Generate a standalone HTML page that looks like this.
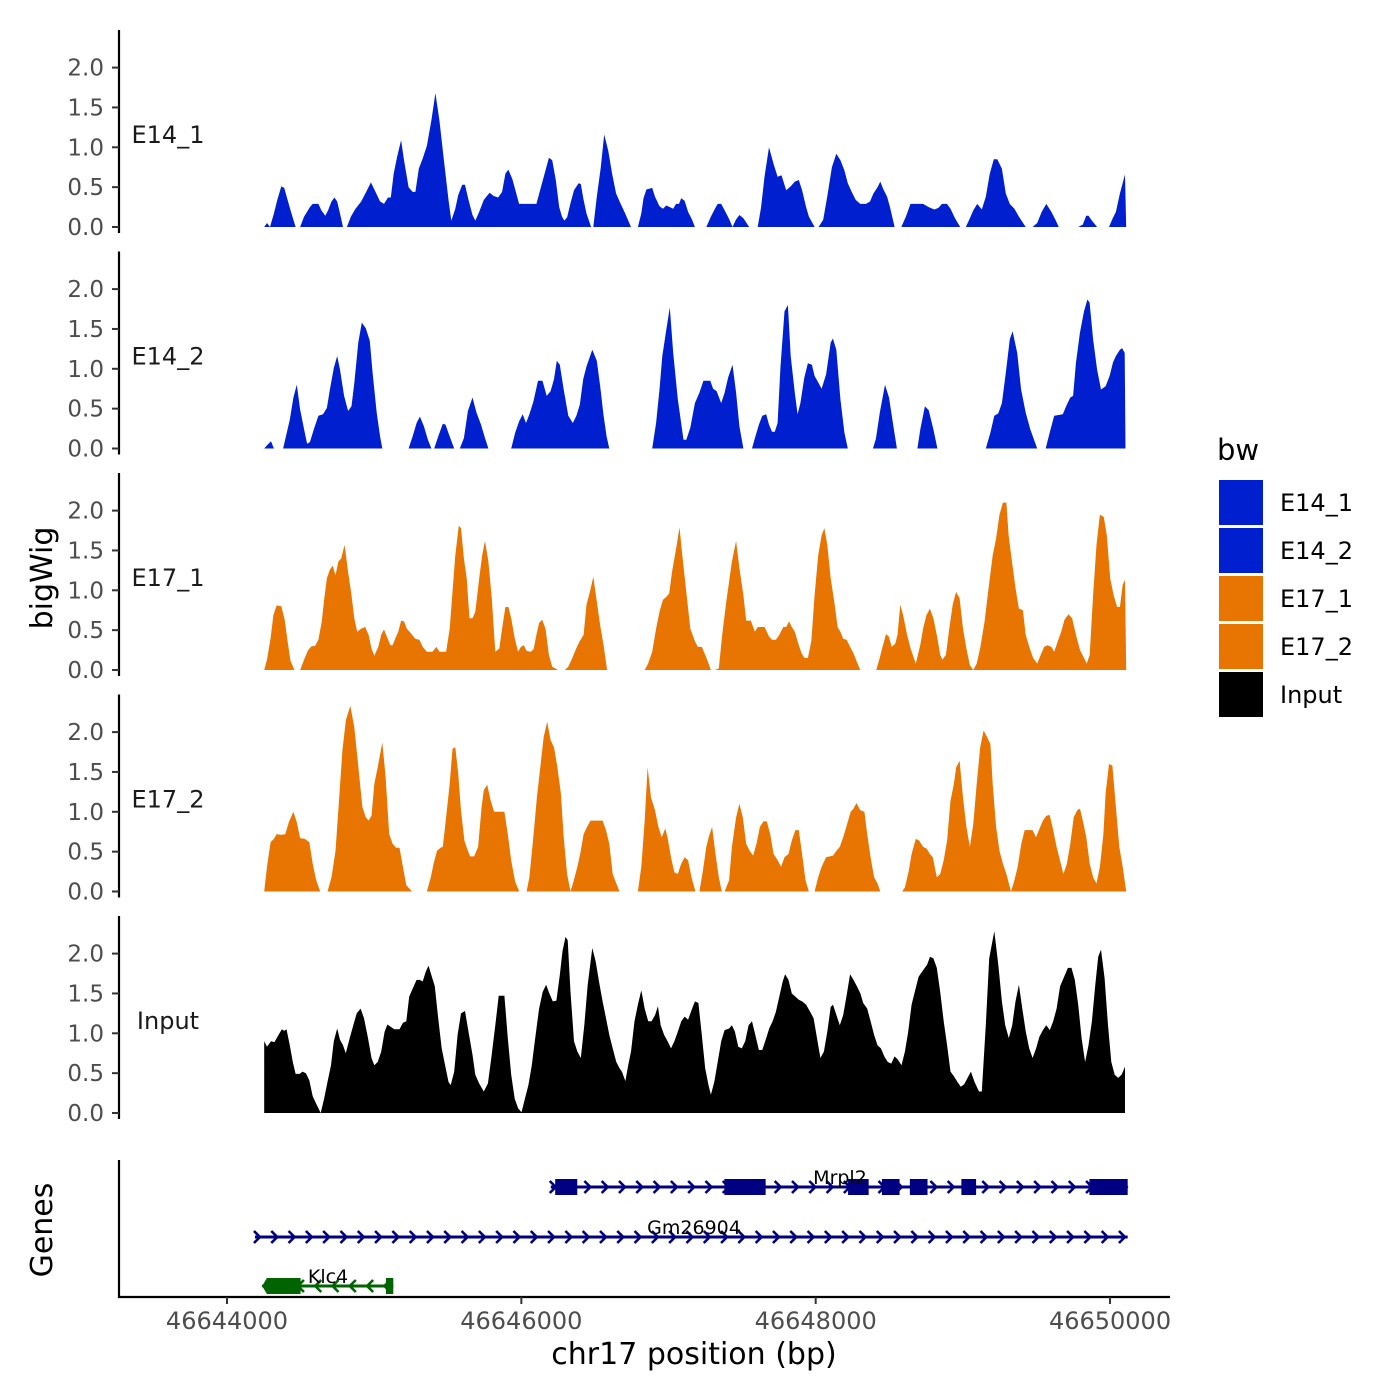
<!DOCTYPE html>
<html><head><meta charset="utf-8"><style>
html,body{margin:0;padding:0;background:#fff;}
svg{display:block;font-family:"DejaVu Sans","Liberation Sans",sans-serif;}
</style></head><body>
<svg id="chart" width="1400" height="1400" viewBox="0 0 1400 1400" xmlns="http://www.w3.org/2000/svg">
<rect width="1400" height="1400" fill="#fff"/>
<g id="tracks"></g>
<g id="genes"></g>
<text x="52" y="578" font-size="30" text-anchor="middle" transform="rotate(-90 52 578)" fill="#000">bigWig</text>
<text x="52" y="1230" font-size="30" text-anchor="middle" transform="rotate(-90 52 1230)" fill="#000">Genes</text>
<text x="694" y="1364" font-size="30" text-anchor="middle" fill="#000">chr17 position (bp)</text>
<g id="xaxis"></g>
<g>
<text x="1217" y="460" font-size="29" fill="#000">bw</text>
<rect x="1219" y="480" width="44" height="45" fill="#0020d0"/>
<text x="1280" y="511" font-size="24" fill="#000">E14_1</text>
<rect x="1219" y="528" width="44" height="45" fill="#0020d0"/>
<text x="1280" y="559" font-size="24" fill="#000">E14_2</text>
<rect x="1219" y="576" width="44" height="45" fill="#e87502"/>
<text x="1280" y="607" font-size="24" fill="#000">E17_1</text>
<rect x="1219" y="624" width="44" height="45" fill="#e87502"/>
<text x="1280" y="655" font-size="24" fill="#000">E17_2</text>
<rect x="1219" y="672" width="44" height="45" fill="#000"/>
<text x="1280" y="703" font-size="24" fill="#000">Input</text>
</g>
</svg>
<script>
// positions in kb offset from 46644000; null separates gaps
const e14_1_pos=[0.253,0.272,0.292,0.319,0.342,0.369,0.389,0.412,0.435,0.466,null,0.497,0.524,0.563,0.582,0.621,0.641,0.668,0.687,0.710,0.730,0.749,0.768,0.788,null,0.815,0.842,0.873,0.912,0.951,0.978,1.009,1.040,1.067,1.094,1.113,1.133,1.156,1.183,1.203,1.234,1.261,1.280,1.303,1.330,1.358,1.389,1.416,1.443,1.474,1.505,1.524,1.551,1.571,1.598,1.617,1.641,1.668,1.687,1.714,1.745,1.784,1.811,1.842,1.869,1.892,1.912,1.939,1.966,1.985,2.102,2.133,2.164,2.187,2.210,2.234,2.257,2.276,2.292,2.311,2.334,2.358,2.389,2.404,2.423,2.443,2.474,null,2.489,2.513,2.540,2.563,2.590,2.617,2.644,2.675,2.706,2.745,null,2.792,2.815,2.830,2.850,2.889,2.908,2.939,2.962,2.985,3.009,3.032,3.051,3.071,3.086,3.109,3.133,3.160,3.179,null,3.257,3.288,3.315,3.334,3.358,3.381,3.412,3.435,3.458,3.482,3.509,3.548,null,3.606,3.629,3.652,3.683,3.714,3.741,3.768,3.800,3.830,3.858,3.885,3.908,3.935,3.954,3.993,null,4.020,4.051,4.078,4.110,4.140,4.168,4.195,4.218,4.245,4.272,4.303,4.342,4.369,4.392,4.420,4.439,4.458,4.485,4.505,4.536,null,4.582,4.613,4.644,4.730,4.768,4.807,4.834,4.858,4.892,4.916,4.947,4.982,null,5.020,5.048,5.071,5.098,5.129,5.156,5.183,5.210,5.234,5.265,5.292,5.319,5.350,5.381,5.427,null,5.474,5.505,5.536,5.567,5.602,5.629,5.652,null,5.784,5.815,5.838,5.854,5.877,5.912,null,5.993,6.016,6.040,6.067,6.102,6.110];
const e14_1_val=[0,0.05,0,0.17,0.34,0.51,0.49,0.34,0.19,0,null,0,0.13,0.25,0.29,0.29,0.21,0.14,0.21,0.32,0.37,0.32,0.17,0,null,0,0.13,0.23,0.32,0.46,0.56,0.44,0.32,0.29,0.37,0.37,0.67,0.88,1.09,0.84,0.5,0.44,0.44,0.73,0.86,1.02,1.34,1.68,1.34,0.84,0.34,0.08,0.23,0.4,0.53,0.53,0.34,0.15,0.08,0.19,0.34,0.43,0.39,0.37,0.44,0.67,0.72,0.6,0.42,0.29,0.29,0.5,0.71,0.87,0.84,0.59,0.25,0.13,0.08,0.12,0.3,0.46,0.55,0.54,0.34,0.17,0,null,0,0.38,0.75,1.16,0.96,0.67,0.42,0.29,0.17,0,null,0,0.17,0.36,0.47,0.49,0.38,0.26,0.23,0.27,0.25,0.23,0.29,0.29,0.36,0.33,0.19,0.09,0,null,0,0.13,0.23,0.29,0.29,0.21,0.1,0,0.09,0.15,0.11,0,null,0,0.25,0.63,1.0,0.79,0.63,0.65,0.46,0.51,0.57,0.59,0.46,0.25,0.13,0,null,0,0.09,0.38,0.75,0.92,0.84,0.71,0.55,0.44,0.34,0.29,0.29,0.32,0.42,0.5,0.57,0.48,0.38,0.25,0,null,0,0.13,0.29,0.29,0.25,0.22,0.24,0.29,0.29,0.23,0.11,0,null,0,0.11,0.21,0.29,0.22,0.38,0.67,0.85,0.85,0.73,0.42,0.29,0.23,0.13,0,null,0,0.05,0.19,0.29,0.19,0.09,0,null,0,0.03,0.14,0.14,0.08,0,null,0,0.1,0.19,0.42,0.66,0];
const e14_2_pos=[0.253,0.272,0.299,0.319,null,0.381,0.400,0.427,0.451,0.474,0.497,0.524,0.544,0.563,0.590,0.621,0.652,0.679,0.699,0.726,0.749,0.768,0.796,0.823,0.846,0.865,0.892,0.916,0.943,0.970,0.989,1.017,1.040,1.055,null,1.234,1.261,1.288,1.311,1.338,1.365,1.389,null,1.408,1.435,1.466,1.485,1.513,1.544,null,1.582,1.610,1.637,1.668,1.695,1.726,1.753,1.776,null,1.931,1.958,1.985,2.009,2.032,2.055,2.082,2.113,2.144,2.172,2.199,2.222,2.241,2.261,2.288,2.319,2.350,2.374,2.397,2.420,2.443,2.482,2.513,2.536,2.559,2.579,2.598,null,2.889,2.916,2.939,2.958,2.985,3.009,3.032,3.063,3.102,3.121,3.148,3.179,3.210,3.237,3.284,3.303,3.327,3.358,3.381,3.405,3.435,3.459,3.482,3.509,null,3.567,3.587,3.614,3.637,3.664,3.683,3.703,3.722,3.741,3.761,3.788,3.811,3.830,3.858,3.877,3.896,3.923,3.947,3.974,3.993,4.020,4.040,4.071,4.102,4.117,4.140,4.168,4.195,4.218,null,4.389,4.409,4.436,4.471,4.498,4.525,4.552,null,4.691,4.711,4.742,4.768,4.800,4.827,null,5.156,5.187,5.214,5.241,5.265,5.292,5.319,5.338,5.369,5.396,5.427,5.458,5.505,null,5.563,5.590,5.621,5.679,5.706,5.730,5.749,5.768,5.795,5.823,5.846,5.861,5.885,5.912,5.939,5.970,5.997,6.020,6.040,6.067,6.082,6.100,6.105];
const e14_2_val=[0,0.04,0.09,0,null,0,0.15,0.36,0.64,0.8,0.49,0.24,0.06,0.08,0.24,0.41,0.43,0.51,0.74,1.01,1.16,0.99,0.66,0.47,0.53,0.82,1.33,1.58,1.51,1.35,0.95,0.45,0.15,0,null,0,0.15,0.32,0.4,0.28,0.11,0,null,0,0.15,0.31,0.3,0.15,0,null,0,0.13,0.47,0.64,0.45,0.3,0.13,0,null,0,0.2,0.34,0.43,0.32,0.43,0.59,0.85,0.85,0.66,0.72,0.87,1.1,1.05,0.74,0.41,0.32,0.41,0.55,0.87,1.03,1.24,1.1,0.78,0.41,0.15,0,null,0,0.32,0.74,1.16,1.49,1.77,1.2,0.62,0.11,0.11,0.26,0.57,0.7,0.85,0.85,0.75,0.72,0.57,0.7,0.89,1.05,0.7,0.28,0,null,0,0.13,0.3,0.41,0.43,0.3,0.21,0.21,0.32,1.03,1.72,1.8,1.16,0.7,0.43,0.57,0.89,1.07,1.05,0.91,0.82,0.75,0.93,1.33,1.38,1.24,0.62,0.2,0,null,0,0.12,0.45,0.8,0.64,0.32,0,null,0,0.24,0.53,0.48,0.24,0,null,0,0.2,0.41,0.44,0.57,0.95,1.37,1.47,1.2,0.74,0.45,0.24,0,null,0,0.2,0.41,0.43,0.55,0.64,0.66,1.07,1.45,1.72,1.87,1.83,1.37,0.99,0.74,0.78,0.91,1.08,1.16,1.24,1.26,1.2,0];
const e17_1_pos=[0.253,0.272,0.296,0.315,0.338,0.369,0.392,0.412,0.431,0.458,null,0.497,0.524,0.551,0.575,0.598,0.621,0.644,0.660,0.679,0.699,0.718,0.737,0.757,0.776,0.799,0.823,0.846,0.865,0.885,0.912,0.939,0.962,0.982,1.001,1.028,1.048,1.067,1.086,1.110,1.125,1.144,1.164,1.183,1.203,1.222,1.249,1.280,1.307,1.330,1.358,1.396,1.423,1.443,1.489,1.513,1.532,1.551,1.575,1.590,1.610,1.629,1.648,1.668,1.687,1.714,1.734,1.753,1.776,1.799,1.823,1.850,1.869,1.892,1.912,1.931,1.955,1.978,1.997,2.017,2.036,2.063,2.083,2.102,2.121,2.141,2.164,2.187,2.210,2.230,2.249,null,2.296,2.319,2.346,2.373,2.396,2.423,2.443,2.466,2.489,2.513,2.536,2.559,2.583,null,2.838,2.861,2.889,2.916,2.939,2.962,2.986,3.005,3.024,3.052,3.075,3.094,3.121,3.148,3.179,3.199,3.226,3.249,3.268,3.288,null,3.315,3.342,3.365,3.393,3.431,3.459,3.482,3.509,3.528,3.559,3.587,3.606,3.653,3.683,3.703,3.730,3.753,3.780,3.800,3.819,3.838,3.858,3.885,3.904,3.924,3.947,3.970,3.993,4.017,4.040,4.059,4.079,4.102,4.129,4.149,4.168,4.187,4.210,4.234,4.257,4.280,4.303,null,4.412,4.435,4.451,4.478,4.497,4.517,4.540,4.556,4.575,4.594,4.621,4.645,4.680,4.710,4.730,4.753,4.776,4.800,4.827,4.846,4.861,4.885,4.908,4.931,4.954,4.978,5.001,5.024,5.048,5.071,5.094,5.117,5.148,5.175,5.203,5.226,5.249,5.272,5.296,5.311,5.334,5.358,5.381,5.408,5.427,5.455,5.478,5.505,5.529,5.552,5.575,5.602,5.621,5.645,5.668,5.691,5.718,5.742,5.769,5.796,5.823,5.842,5.862,5.885,5.908,5.931,5.958,5.978,6.001,6.024,6.048,6.067,6.086,6.102,6.110];
const e17_1_val=[0,0.13,0.4,0.69,0.81,0.8,0.63,0.36,0.12,0,null,0,0.13,0.25,0.3,0.3,0.38,0.61,0.88,1.15,1.26,1.31,1.19,1.36,1.4,1.57,1.23,0.94,0.65,0.48,0.52,0.54,0.44,0.27,0.18,0.29,0.44,0.51,0.42,0.31,0.31,0.4,0.48,0.62,0.61,0.52,0.46,0.39,0.38,0.29,0.23,0.23,0.29,0.23,0.23,0.52,0.98,1.44,1.81,1.78,1.4,1.15,0.65,0.65,0.73,1.15,1.44,1.62,1.36,0.9,0.23,0.27,0.52,0.79,0.79,0.65,0.4,0.23,0.29,0.31,0.24,0.23,0.26,0.44,0.59,0.63,0.52,0.19,0.04,0.02,0,null,0,0.04,0.15,0.27,0.36,0.44,0.82,0.98,1.17,0.86,0.56,0.31,0,null,0,0.08,0.23,0.52,0.73,0.88,0.92,0.96,1.23,1.53,1.79,1.44,0.98,0.52,0.36,0.29,0.29,0.19,0.1,0,null,0,0.02,0.44,0.86,1.36,1.62,1.28,0.94,0.62,0.62,0.48,0.54,0.54,0.42,0.38,0.38,0.44,0.54,0.54,0.61,0.54,0.48,0.31,0.21,0.15,0.15,0.36,0.94,1.44,1.69,1.78,1.57,1.15,0.82,0.54,0.48,0.39,0.38,0.29,0.21,0.1,0,null,0,0.15,0.27,0.45,0.42,0.29,0.33,0.44,0.82,0.69,0.44,0.27,0.08,0.31,0.52,0.69,0.77,0.65,0.4,0.19,0.13,0.19,0.52,0.82,0.98,0.9,0.52,0.27,0.06,0,0.08,0.27,0.61,1.03,1.44,1.65,1.95,2.1,2.1,1.69,1.36,1.03,0.77,0.75,0.44,0.27,0.15,0.08,0.19,0.29,0.31,0.29,0.23,0.36,0.48,0.63,0.7,0.65,0.44,0.25,0.15,0.08,0.19,0.94,1.57,1.95,1.92,1.69,1.15,0.94,0.79,0.79,1.07,1.13,0];
const e17_2_pos=[0.253,0.272,0.296,0.319,0.338,0.369,0.396,0.420,0.451,0.474,0.497,0.528,0.559,0.582,0.606,0.633,null,0.683,0.710,0.737,0.761,0.784,0.808,0.838,0.865,0.893,0.920,0.943,0.962,0.982,1.001,1.024,1.055,1.078,1.102,1.125,1.148,1.172,1.195,1.218,1.257,null,1.358,1.385,1.404,1.427,1.451,1.466,1.489,1.513,1.532,1.551,1.571,1.590,1.613,1.637,1.652,1.679,1.706,1.730,1.745,1.768,1.792,1.815,1.885,1.908,1.931,1.958,1.986,null,2.036,2.055,2.083,2.106,2.129,2.152,2.176,2.199,2.222,2.245,2.269,2.288,2.311,2.334,2.354,2.381,2.404,2.423,2.447,2.470,2.552,2.575,2.598,2.621,2.645,2.668,null,2.792,2.815,2.838,2.858,2.881,2.908,2.931,2.954,2.978,2.993,3.017,3.040,3.063,3.086,3.110,3.133,3.156,3.183,null,3.210,3.234,3.257,3.276,3.296,3.319,3.342,3.362,null,3.381,3.412,3.431,3.459,3.482,3.505,3.528,3.552,3.575,3.598,3.621,3.645,3.668,3.691,3.714,3.742,3.765,3.788,3.815,3.838,3.862,3.885,3.908,3.931,3.954,null,3.993,4.017,4.040,4.071,4.118,4.141,4.164,4.187,4.214,4.238,4.257,4.277,4.303,4.331,4.350,4.373,4.397,4.420,4.439,null,4.587,4.606,4.633,4.652,4.680,4.703,4.730,4.753,4.776,4.796,4.823,4.846,4.870,4.893,4.916,4.939,4.955,4.978,5.001,5.024,5.048,5.071,5.094,5.118,5.141,5.164,5.187,5.203,5.226,5.249,5.272,5.296,5.327,5.350,5.373,5.397,5.420,5.447,5.474,5.497,5.517,5.544,5.567,5.590,5.614,5.637,5.660,5.683,5.707,5.730,5.753,5.777,5.796,5.815,5.839,5.862,5.885,5.908,5.931,5.955,5.970,5.993,6.016,6.040,6.063,6.086,6.110];
const e17_2_val=[0,0.31,0.62,0.66,0.72,0.71,0.72,0.87,1.0,0.87,0.67,0.66,0.62,0.35,0.14,0,null,0,0.18,0.51,1.14,1.77,2.15,2.33,2.06,1.56,1.06,0.93,0.89,0.95,1.35,1.56,1.87,1.44,0.72,0.6,0.55,0.55,0.31,0.08,0,null,0,0.18,0.35,0.51,0.55,0.56,0.93,1.35,1.79,1.81,1.48,1.02,0.64,0.51,0.44,0.44,0.56,1.06,1.27,1.34,1.14,1.0,1.0,0.72,0.39,0.12,0,null,0,0.18,0.72,1.18,1.56,1.94,2.13,1.9,1.81,1.56,1.23,0.68,0.22,0,0.12,0.31,0.51,0.72,0.81,0.89,0.89,0.77,0.6,0.22,0.1,0,null,0,0.31,0.89,1.56,1.18,1.02,0.81,0.68,0.79,0.68,0.43,0.24,0.22,0.35,0.43,0.39,0.18,0,null,0,0.26,0.56,0.7,0.81,0.47,0.18,0,null,0,0.14,0.56,0.93,1.1,0.93,0.6,0.51,0.45,0.6,0.81,0.88,0.88,0.72,0.47,0.39,0.31,0.43,0.47,0.64,0.77,0.77,0.47,0.14,0,null,0,0.18,0.31,0.43,0.45,0.51,0.56,0.68,0.85,1.0,1.04,1.11,1.02,1.0,0.72,0.43,0.18,0.1,0,null,0,0.05,0.26,0.47,0.66,0.64,0.56,0.54,0.47,0.43,0.18,0.22,0.39,0.64,1.14,1.35,1.56,1.64,1.18,0.81,0.56,0.85,1.35,1.81,2.02,1.94,1.85,1.35,0.81,0.51,0.35,0.22,0,0.14,0.31,0.6,0.77,0.77,0.77,0.68,0.77,0.89,0.95,0.96,0.77,0.56,0.39,0.22,0.35,0.6,0.93,1.02,1.04,0.89,0.68,0.35,0.18,0.1,0.31,0.72,1.23,1.6,1.58,1.06,0.56,0.31,0];
const input_pos=[0.253,0.272,0.299,0.323,0.350,0.373,0.389,0.404,0.427,0.447,0.466,0.493,0.513,0.536,0.559,0.582,0.610,0.637,0.660,0.683,0.707,0.726,0.749,0.768,0.788,0.807,0.834,0.858,0.881,0.908,0.931,0.958,0.982,1.001,1.024,1.048,1.071,1.090,1.113,1.137,1.172,1.195,1.218,1.238,1.261,1.288,1.311,1.330,1.350,1.369,1.389,1.412,1.435,1.459,1.482,1.505,1.520,1.544,1.567,1.590,1.617,1.641,1.668,1.687,1.714,1.745,1.773,1.796,1.823,1.846,1.885,1.908,1.931,1.955,1.978,2.001,2.024,2.048,2.071,2.094,2.121,2.145,2.168,2.191,2.214,2.238,2.261,2.280,2.300,2.315,2.334,2.358,2.381,2.404,2.428,2.451,2.482,2.505,2.528,2.552,2.575,2.598,2.621,2.645,2.668,2.683,2.707,2.726,2.745,2.769,2.792,2.815,2.838,2.862,2.885,2.909,2.928,2.947,2.970,2.994,3.017,3.040,3.063,3.087,3.110,3.133,3.156,3.179,3.203,3.226,3.249,3.272,3.288,3.311,3.334,3.358,3.381,3.412,3.431,3.451,3.474,3.498,3.521,3.544,3.567,3.590,3.614,3.637,3.664,3.684,3.707,3.730,3.753,3.776,3.792,3.815,3.838,3.862,3.885,3.908,3.935,3.962,3.986,4.009,4.032,4.056,4.079,4.102,4.118,4.141,4.164,4.187,4.211,4.234,4.257,4.280,4.304,4.323,4.350,4.373,4.397,4.420,4.443,4.466,4.490,4.513,4.536,4.559,4.583,4.606,4.629,4.652,4.676,4.699,4.730,4.757,4.777,4.800,4.823,4.846,4.870,4.893,4.916,4.939,4.963,4.986,5.009,5.032,5.055,5.079,5.110,5.129,5.156,5.179,5.214,5.241,5.265,5.288,5.312,5.335,5.358,5.381,5.404,5.428,5.451,5.474,5.498,5.521,5.544,5.567,5.591,5.614,5.637,5.661,5.684,5.714,5.738,5.761,5.784,5.807,5.831,5.854,5.877,5.900,5.920,5.939,5.963,5.986,6.009,6.032,6.055,6.079,6.102];
const input_val=[0.9,0.83,0.9,0.89,0.98,1.05,1.03,1.05,0.85,0.64,0.49,0.49,0.52,0.5,0.41,0.21,0.1,0,0.18,0.39,0.6,0.9,1.06,0.92,0.85,0.75,0.94,1.1,1.25,1.31,1.19,0.94,0.69,0.6,0.64,0.77,1.02,1.11,1.08,1.05,1.05,1.13,1.15,1.46,1.56,1.67,1.67,1.65,1.77,1.85,1.73,1.59,1.19,0.81,0.6,0.39,0.35,0.52,0.98,1.25,1.28,1.02,0.73,0.48,0.37,0.27,0.37,0.69,1.1,1.47,1.47,0.94,0.48,0.18,0.06,0.01,0.18,0.35,0.6,0.94,1.31,1.52,1.61,1.5,1.4,1.41,1.73,2.03,2.21,2.17,1.52,0.9,0.77,0.69,1.1,1.61,2.07,1.9,1.65,1.4,1.19,0.98,0.81,0.64,0.56,0.52,0.4,0.6,0.77,1.15,1.36,1.54,1.31,1.15,1.15,1.23,1.34,1.1,0.98,0.9,0.81,0.9,1.02,1.15,1.21,1.17,1.29,1.4,1.38,0.98,0.56,0.35,0.23,0.39,0.64,0.9,1.04,1.06,1.1,1.02,0.83,0.81,0.9,1.1,1.15,0.98,0.79,0.79,0.94,1.06,1.15,1.27,1.46,1.65,1.74,1.67,1.5,1.46,1.42,1.4,1.36,1.27,1.19,0.94,0.69,0.77,1.02,1.33,1.36,1.23,1.1,1.23,1.48,1.74,1.67,1.59,1.5,1.38,1.31,1.15,0.98,0.85,0.81,0.71,0.64,0.62,0.71,0.67,0.6,0.77,1.02,1.36,1.54,1.71,1.79,1.86,1.96,1.94,1.82,1.52,1.15,0.85,0.52,0.46,0.39,0.33,0.36,0.44,0.52,0.39,0.27,0.27,1.1,1.94,2.28,1.86,1.4,1.1,0.94,1.1,1.4,1.61,1.31,1.02,0.81,0.69,0.81,0.96,1.04,1.1,1.04,1.15,1.31,1.59,1.69,1.82,1.82,1.67,1.36,0.94,0.64,0.85,1.15,1.61,1.96,2.05,1.69,1.1,0.64,0.48,0.44,0.48,0.58];
const trackNames=["E14_1","E14_2","E17_1","E17_2","Input"];
const trackColors=["#0020d0","#0020d0","#e87502","#e87502","#000000"];
const yTicks=[0,0.5,1,1.5,2];
const yTickLabels=["0.0","0.5","1.0","1.5","2.0"];
const xTicks=[0,2,4,6];
const xTickLabels=["46644000","46646000","46648000","46650000"];
// genes: exons in kb offsets
const mrpl2Span=[2.20,6.12];
const mrpl2Exons=[[2.23,2.38],[3.38,3.66],[4.22,4.36],[4.45,4.57],[4.64,4.76],[4.99,5.09],[5.86,6.12]];
const gmSpan=[0.19,6.12];
const klc4Span=[0.24,1.13];
const klc4Exons=[[0.27,0.50],[1.08,1.13]];

const NS="http://www.w3.org/2000/svg";
const xs=kb=>227+kb*147.17;
const PH=221.5, PS=79.7;
const yb=(i,v)=>227+i*PH - v*PS;
function mk(tag,attrs,parent){const e=document.createElementNS(NS,tag);for(const k in attrs)e.setAttribute(k,attrs[k]);parent.appendChild(e);return e;}
const tracks=document.getElementById('tracks');
const data=[[e14_1_pos,e14_1_val],[e14_2_pos,e14_2_val],[e17_1_pos,e17_1_val],[e17_2_pos,e17_2_val],[input_pos,input_val]];
data.forEach((d,i)=>{
  const g=mk('g',{},tracks);
  
  
  const base=yb(i,0);
  let segs=[],cur=[];
  for(let k=0;k<d[0].length;k++){
    if(d[0][k]===null||d[1][k]===null){if(cur.length)segs.push(cur);cur=[];}
    else cur.push([xs(d[0][k]),yb(i,d[1][k])]);
  }
  if(cur.length)segs.push(cur);
  segs.forEach(s=>{
    let p='M'+s[0][0].toFixed(1)+','+base;
    s.forEach(pt=>p+='L'+pt[0].toFixed(1)+','+pt[1].toFixed(1));
    p+='L'+s[s.length-1][0].toFixed(1)+','+base+'Z';
    const path=mk('path',{d:p,fill:trackColors[i]},g);
    
    
  });
  const ax=mk('line',{x1:119,x2:119,y1:base-197,y2:base+6,stroke:'#000','stroke-width':2.2},g);
  
  
  yTicks.forEach((t,j)=>{
    const y=yb(i,t);
    const tk=mk('line',{x1:112,x2:119,y1:y,y2:y,stroke:'#333','stroke-width':2},g);
    
    
    const tx=mk('text',{x:104,y:y+8,'font-size':23,'text-anchor':'end',fill:'#4d4d4d'},g);
    tx.textContent=yTickLabels[j];
    
    
  });
  const lb=mk('text',{x:168,y:base-84,'font-size':24,'text-anchor':'middle',fill:'#1a1a1a'},g);
  lb.textContent=trackNames[i];
  
  
});
const gg=document.getElementById('genes');
const ga=mk('line',{x1:119,x2:119,y1:1160,y2:1298,stroke:'#000','stroke-width':2.2},gg);


function gene(name,span,exons,y,color,dir,lx){
  const g=mk('g',{},gg);
  
  
  const x1=xs(span[0]),x2=xs(span[1]);
  mk('line',{x1:x1,x2:x2,y1:y,y2:y,stroke:color,'stroke-width':3},g);
  for(let x=x1+3;x<x2;x+=17.3){
    const p=dir>0?`M${x-4},${y-6}L${x+2},${y}L${x-4},${y+6}`:`M${x+4},${y-6}L${x-2},${y}L${x+4},${y+6}`;
    mk('path',{d:p,stroke:color,'stroke-width':2.6,fill:'none'},g);
  }
  exons.forEach(e=>{
    const r=mk('rect',{x:xs(e[0]),y:y-8,width:xs(e[1])-xs(e[0]),height:16,fill:color},g);
    
    
  });
  const t=mk('text',{x:lx,y:y-3,'font-size':19,'text-anchor':'middle',fill:'#000'},g);
  t.textContent=name;
  
  
}
gene('Mrpl2',mrpl2Span,mrpl2Exons,1187,'#000080',1,840);
gene('Gm26904',gmSpan,[],1237,'#000080',1,694);
gene('Klc4',klc4Span,klc4Exons,1286,'#006400',-1,328);
mk('path',{d:`M${xs(0.27)},1278L${xs(0.24)},1286L${xs(0.27)},1294Z`,fill:'#006400'},gg);
const xa=document.getElementById('xaxis');
mk('line',{x1:118,x2:1170,y1:1297,y2:1297,stroke:'#000','stroke-width':2.2},xa);
xTicks.forEach((t,j)=>{
  const x=xs(t);
  const tk=mk('line',{x1:x,x2:x,y1:1297,y2:1304,stroke:'#333','stroke-width':2},xa);
  
  
  const tx=mk('text',{x:x,y:1329,'font-size':24,'text-anchor':'middle',fill:'#4d4d4d'},xa);
  tx.textContent=xTickLabels[j];
  
  
});
</script>
</body></html>
